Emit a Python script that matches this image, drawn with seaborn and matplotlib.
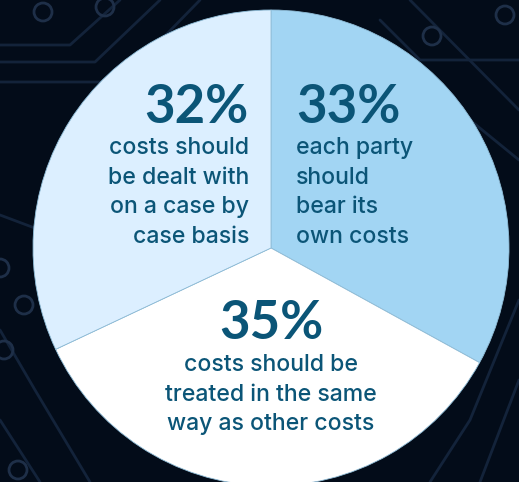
import matplotlib
matplotlib.use("Agg")
import matplotlib.pyplot as plt
from matplotlib.patches import Circle
import seaborn as sns

sns.set_theme(style="white")
plt.rcParams["font.family"] = ["Inter", "DejaVu Sans"]

# Survey answers, clockwise from 12 o'clock
shares = [33, 35, 32]
captions = [
    "each party\nshould\nbear its\nown costs",
    "costs should be\ntreated in the same\nway as other costs",
    "costs should\nbe dealt with\non a case by\ncase basis",
]
slice_colors = ["#a2d5f3", "#ffffff", "#dcefff"]

W, H = 519, 482
bg = "#030c19"
fig = plt.figure(figsize=(W / 100, H / 100), dpi=100)
fig.patch.set_facecolor(bg)
ax = fig.add_axes([0, 0, 1, 1])
ax.set_facecolor(bg)

# faint circuit-board traces behind the chart
trace = dict(color="#13233a", lw=2.0, zorder=0, solid_capstyle="round")
paths = [
    [(0, 45), (70, 45), (120, 0)],
    [(0, 62), (95, 62), (160, 0)],
    [(0, 82), (120, 82), (200, 0)],
    [(380, 20), (420, 60), (519, 60)],
    [(410, 0), (519, 110)],
    [(519, 160), (470, 120)],
    [(0, 215), (40, 230), (40, 280)],
    [(0, 330), (35, 390), (90, 482)],
    [(0, 420), (40, 482)],
    [(519, 300), (470, 420), (430, 482)],
    [(519, 380), (480, 482)],
]
for p in paths:
    xs, ys = zip(*p)
    ax.plot(xs, [H - y for y in ys], **trace)
for (x, y) in [(43, 12), (105, 7), (432, 36), (505, 15), (0, 268), (24, 305), (4, 350), (18, 470)]:
    ax.add_patch(Circle((x, H - y), 9, fill=False, ec="#1e2f48", lw=2.0, zorder=0))

cx, cy, r = 271, H - 248, 238
ax.pie(shares, colors=slice_colors, startangle=90, counterclock=False,
       center=(cx, cy), radius=r, frame=True,
       wedgeprops=dict(edgecolor="#8fbdd8", linewidth=0.6, zorder=2))
ax.set_xlim(0, W)
ax.set_ylim(0, H)
ax.set_aspect("equal")
ax.axis("off")

ink = "#0b5577"
num_size = 38
body_size = 16.6
line_gap = 1.45

def label(x, y_top, pct, text, ha, gap):
    ax.text(x, H - y_top, f"{pct}%", ha=ha, va="top", fontsize=num_size,
            fontweight="bold", color=ink, family=["Lato", "DejaVu Sans"], zorder=3)
    ax.text(x, H - y_top - gap, text, ha=ha, va="top", fontsize=body_size,
            fontweight="medium", color=ink, linespacing=line_gap,
            multialignment=ha, zorder=3)

label(249, 83, shares[2], captions[2], "right", 54)
label(296, 83, shares[0], captions[0], "left", 54)
label(271, 299, shares[1], captions[1], "center", 55)

fig.savefig("out.png", dpi=100, facecolor=fig.get_facecolor())
